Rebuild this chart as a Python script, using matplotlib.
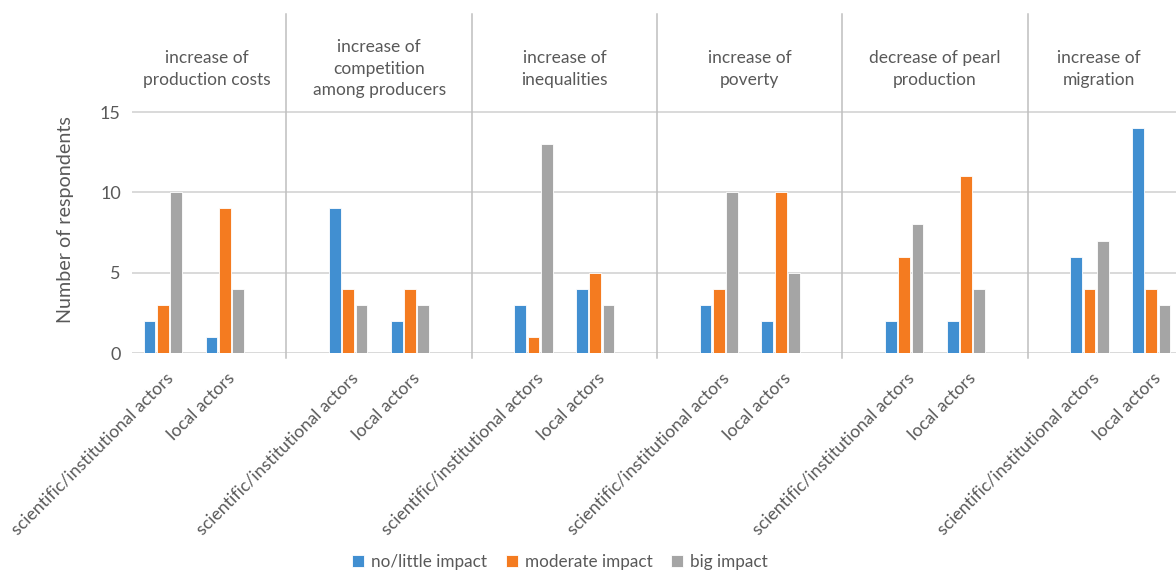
import numpy as np
import matplotlib.pyplot as plt

plt.rcParams.update({
    'font.family': ['Lato', 'DejaVu Sans'],
    'font.size': 12.5,
    'text.color': '#595959',
    'axes.labelcolor': '#595959',
    'xtick.color': '#595959',
    'ytick.color': '#595959',
})

# --- data ---
panel_titles = [
    "increase of\nproduction costs",
    "increase of\ncompetition\namong producers",
    "increase of\ninequalities",
    "increase of\npoverty",
    "decrease of pearl\nproduction",
    "increase of\nmigration",
]
groups = ["scientific/institutional actors", "local actors"]
series_names = ["no/little impact", "moderate impact", "big impact"]

# one row per panel: [scientific/institutional, local]
no_little = [[2, 1], [9, 2], [3, 4], [3, 2], [2, 2], [6, 14]]
moderate = [[3, 9], [4, 4], [1, 5], [4, 10], [6, 11], [4, 4]]
big = [[10, 4], [3, 3], [13, 3], [10, 5], [8, 4], [7, 3]]

colors = ['#418FD1', '#F47B20', '#A5A5A5']

# --- layout (slot units: each panel = 2 categories + 1 blank slot) ---
fig = plt.figure(figsize=(11.76, 5.73), dpi=100)
ax = fig.add_axes([132 / 1176, 220 / 573, 1 - 132 / 1176, 339 / 573])

n_panels = len(panel_titles)
series = [no_little, moderate, big]
offsets = [-0.215, 0.0, 0.215]
bar_w = 0.19

for s, (vals, col, name) in enumerate(zip(series, colors, series_names)):
    vals = np.array(vals)
    xs, hs = [], []
    for p in range(n_panels):
        for g in range(len(groups)):
            xs.append(3 * p + g + 0.5 + offsets[s])
            hs.append(vals[p, g])
    ax.bar(xs, hs, width=bar_w, color=col, edgecolor='white', linewidth=0.6,
           label=name, zorder=3)

ax.set_xlim(0, 16.9)
ax.set_ylim(0, 21.1)
ax.set_yticks([0, 5, 10, 15])
for y in [0, 5, 10, 15]:
    ax.axhline(y, color='#D9D9D9', linewidth=1.4, zorder=1)

# panel separators
for p in range(1, n_panels):
    ax.plot([3 * p - 0.5] * 2, [-0.3, 21.1], color='#BFBFBF', linewidth=1.1,
            clip_on=False, zorder=2)

# panel titles
title_x = [1.21, 4.0, 7.0, 10.0, 13.0, 15.65]
for tx, t in zip(title_x, panel_titles):
    ax.text(tx, 17.7, t, ha='center', va='center', fontsize=12.5,
            linespacing=1.45, color='#595959')

# category labels
tick_pos, tick_lab = [], []
for p in range(n_panels):
    for g, lab in enumerate(groups):
        tick_pos.append(3 * p + g + 0.53)
        tick_lab.append(lab)
ax.set_xticks(tick_pos)
ax.set_xticklabels(tick_lab, rotation=45, ha='right', va='top',
                   rotation_mode='anchor', fontsize=12.7)
ax.tick_params(axis='x', length=0, pad=12)
ax.tick_params(axis='y', length=0, pad=8, labelsize=13)

for sp in ax.spines.values():
    sp.set_visible(False)

# y axis title
fig.text(65 / 1176, 1 - 220 / 573, "Number of respondents", rotation=90,
         ha='center', va='center', fontsize=14.2, color='#595959')

fig.legend(loc='lower center', bbox_to_anchor=(560 / 1176, -0.021), ncol=3,
           frameon=False, fontsize=12.3, handlelength=0.7, handleheight=0.7,
           handletextpad=0.4, columnspacing=1.1)

fig.savefig('out.png', dpi=100)
